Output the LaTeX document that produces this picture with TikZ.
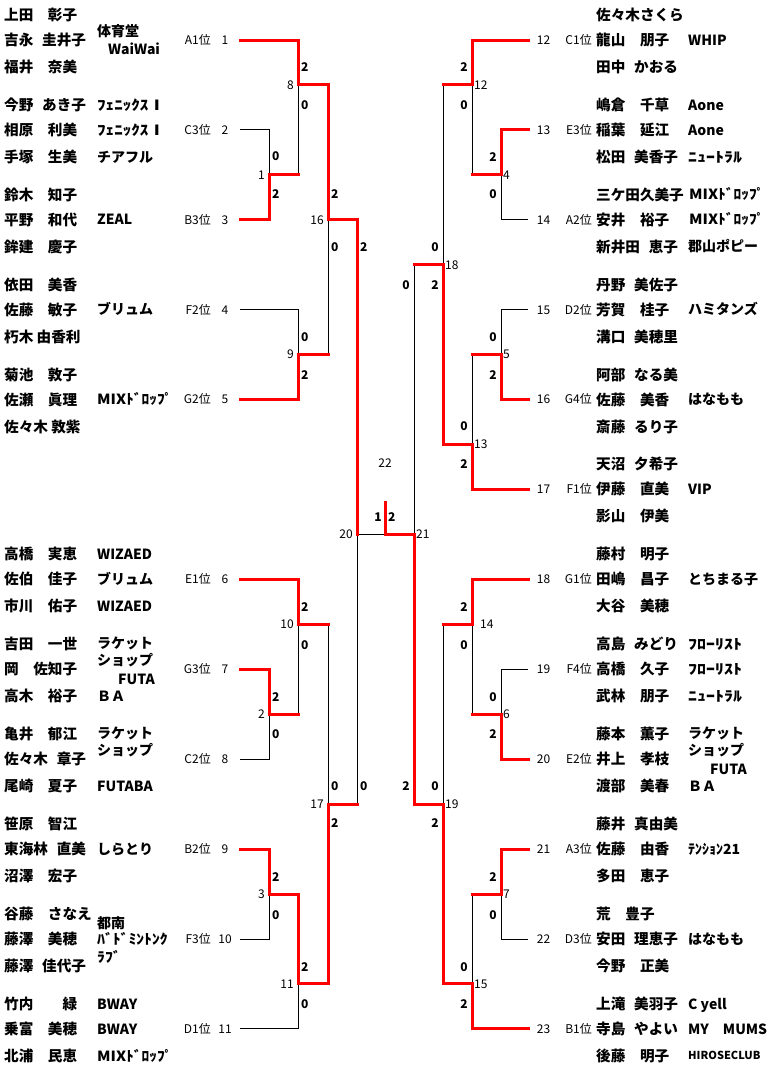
\documentclass[tikz,border=0pt]{standalone}
\usepackage{fontspec}
\setmainfont{Noto Sans CJK JP}
\newcommand\Hs{\hspace{0.6em}}
\newcommand\hw[2]{\scalebox{#1}[1]{#2}}
\begin{document}
\begin{tikzpicture}[x=1pt,y=-1pt,
  lose/.style={line width=1pt, draw=black},
  win/.style={line width=3pt, draw=red, line cap=rect},
  nm/.style={font=\bfseries\fontsize{14.6pt}{16pt}\selectfont, inner sep=0pt, anchor=base west, yshift=-5.4pt},
  tm/.style={font=\bfseries\fontsize{14pt}{15pt}\selectfont, inner sep=0pt, anchor=base west, yshift=-5.1pt},
  tms/.style={font=\bfseries\fontsize{11pt}{12pt}\selectfont, inner sep=0pt, anchor=base west, yshift=-4pt},
  sd/.style={font=\fontsize{12pt}{13pt}\selectfont, inner sep=0pt, yshift=-4.3pt},
  sc/.style={font=\bfseries\fontsize{12pt}{13pt}\selectfont, inner sep=0pt, yshift=-4.3pt},
  mlL/.style={font=\fontsize{12pt}{13pt}\selectfont, inner sep=0pt, anchor=base east, xshift=-4pt, yshift=-4.3pt},
  mlR/.style={font=\fontsize{12pt}{13pt}\selectfont, inner sep=0pt, anchor=base west, xshift=2pt, yshift=-4.3pt}
]
\useasboundingbox[fill=white] (0,0) rectangle (771,1069);

% ---------- seed coordinates ----------
\coordinate (s1) at (240,40);
\coordinate (s2) at (240,129.9);
\coordinate (s3) at (240,219.8);
\coordinate (s4) at (240,309.7);
\coordinate (s5) at (240,399.6);
\coordinate (s6) at (240,579.4);
\coordinate (s7) at (240,669.3);
\coordinate (s8) at (240,759.2);
\coordinate (s9) at (240,849.1);
\coordinate (s10) at (240,939);
\coordinate (s11) at (240,1028.9);
\coordinate (s12) at (528,40);
\coordinate (s13) at (528,129.9);
\coordinate (s14) at (528,219.8);
\coordinate (s15) at (528,309.7);
\coordinate (s16) at (528,399.6);
\coordinate (s17) at (528,489.5);
\coordinate (s18) at (528,579.4);
\coordinate (s19) at (528,669.3);
\coordinate (s20) at (528,759.2);
\coordinate (s21) at (528,849.1);
\coordinate (s22) at (528,939);
\coordinate (s23) at (528,1028.9);

% ---------- match junctions ----------
\coordinate (m1) at (269,174.85);
\coordinate (m8) at (298,84.95);
\coordinate (m16) at (328,219.8);
\coordinate (m9) at (298,354.65);
\coordinate (m20) at (357,534.45);
\coordinate (m10) at (298,624.35);
\coordinate (m2) at (269,714.25);
\coordinate (m17) at (328,804.15);
\coordinate (m3) at (269,894.05);
\coordinate (m11) at (298,983.95);
\coordinate (m22) at (385,534.45);
\coordinate (champ) at (385,502);
\coordinate (m12) at (472,84.95);
\coordinate (m4) at (501,174.85);
\coordinate (m18) at (443,264.75);
\coordinate (m5) at (501,354.65);
\coordinate (m13) at (472,444.55);
\coordinate (m21) at (414,534.45);
\coordinate (m14) at (472,624.35);
\coordinate (m6) at (501,714.25);
\coordinate (m19) at (443,804.15);
\coordinate (m7) at (501,894.05);
\coordinate (m15) at (472,983.95);

% ---------- black (losing) lines ----------
\foreach \s/\m in {s2/m1, s4/m9, s8/m2, s10/m3, s11/m11, s14/m4, s15/m5, s19/m6, s22/m7}
  \draw[lose] (\s) -| (\m);
\foreach \c/\p in {m1/m8, m9/m16, m17/m20, m2/m10, m10/m17, m4/m12, m12/m18, m18/m21, m5/m13, m6/m14, m14/m19, m7/m15}
  \draw[lose] (\c -| \p) -- (\p);
\draw[lose] (m20) -- (m22);

% ---------- red (winning) lines ----------
\foreach \s/\m in {s1/m8, s3/m1, s5/m9, s6/m10, s7/m2, s9/m3, s12/m12, s13/m4, s16/m5, s17/m13, s18/m14, s20/m6, s21/m7, s23/m15}
  \draw[win] (\s) -| (\m);
\foreach \c/\p in {m8/m16, m16/m20, m3/m11, m11/m17, m13/m18, m15/m19, m19/m21}
  \draw[win] (\c) -| (\p);
\foreach \c/\p in {m1/m8, m9/m16, m17/m20, m2/m10, m10/m17, m4/m12, m12/m18, m18/m21, m5/m13, m6/m14, m14/m19, m7/m15}
  \draw[win] (\c) -- (\c -| \p);
\draw[win] (m21) -- (m22) -- (champ);

% ---------- match numbers ----------
\foreach \m/\t in {m1/1, m8/8, m16/16, m9/9, m20/20, m10/10, m2/2, m17/17, m3/3, m11/11}
  \node[mlL] (l\m) at (\m) {\t};
\foreach \m/\t in {m12/12, m4/4, m18/18, m5/5, m13/13, m21/21, m6/6, m19/19, m7/7, m15/15}
  \node[mlR] (l\m) at (\m) {\t};
\node[mlR, xshift=6pt] (lm14) at (m14) {14};
\node[sd, anchor=base] (lm22) at (385,463) {22};

% ---------- scores ----------
\foreach \x/\y/\t [count=\i] in {301/67/2, 301/105/0, 272/156/0, 272/194/2, 331/194/2, 331/247/0,
  360/247/2, 360/786/0, 301/337/0, 301/375/2, 301/607/2, 301/645/0, 272/697/2, 272/734/0,
  331/786/0, 331/823/2, 272/877/2, 272/915/0, 301/967/2, 301/1004/0}
  \node[sc, anchor=base west] (scL\i) at (\x,\y) {\t};
\foreach \x/\y/\t [count=\i] in {468/67/2, 468/105/0, 497/157/2, 497/194/0, 439/247/0, 439/285/2,
  410/285/0, 410/786/2, 497/337/0, 497/375/2, 468/426/0, 468/464/2, 468/607/2, 468/645/0,
  497/697/0, 497/734/2, 439/786/0, 439/823/2, 497/877/2, 497/915/0, 468/967/0, 468/1004/2}
  \node[sc, anchor=base east] (scR\i) at (\x,\y) {\t};
\node[sc, anchor=base east] (fin1) at (382,517) {1};
\node[sc, anchor=base west] (fin2) at (388,517) {2};

% ---------- seed labels ----------
\foreach \s/\p/\n in {s1/A1/1, s2/C3/2, s3/B3/3, s4/F2/4, s5/G2/5, s6/E1/6, s7/G3/7, s8/C2/8, s9/B2/9, s10/F3/10, s11/D1/11} {
  \node[sd, anchor=base east] (p\s) at (211,0 |- \s) {\p 位};
  \node[sd, anchor=base] (n\s) at (225,0 |- \s) {\n};
}
\foreach \s/\p/\n in {s12/C1/12, s13/E3/13, s14/A2/14, s15/D2/15, s16/G4/16, s17/F1/17, s18/G1/18, s19/F4/19, s20/E2/20, s21/A3/21, s22/D3/22, s23/B1/23} {
  \node[sd, anchor=base] (n\s) at (543.5,0 |- \s) {\n};
  \node[sd, anchor=base east] (p\s) at (592,0 |- \s) {\p 位};
}

% ---------- player names ----------
\foreach \k/\a/\b/\c [evaluate=\k as \yy using 40+89.9*\k] in {
  0/上田　彰子/吉永\Hs 圭井子/福井　奈美,
  1/今野\Hs あき子/相原　利美/手塚　生美,
  2/鈴木　知子/平野　和代/鉾建　慶子,
  3/依田　美香/佐藤　敏子/朽木 由香利,
  4/菊池　敦子/佐瀬　眞理/佐々木 敦紫,
  6/高橋　実恵/佐伯　佳子/市川　佑子,
  7/吉田　一世/岡　佐知子/高木　裕子,
  8/亀井　郁江/佐々木\Hs 章子/尾崎　夏子,
  9/笹原　智江/東海林\Hs 直美/沼澤　宏子,
  10/谷藤　さなえ/藤澤　美穂/藤澤\Hs 佳代子,
  11/竹内　　緑/乗富　美穂/北浦　民恵} {
  \node[nm] (La\k) at (4,\yy-25) {\a};
  \node[nm] (Lb\k) at (4,\yy) {\b};
  \node[nm] (Lc\k) at (4,\yy+27) {\c};
}
\foreach \k/\a/\b/\c [evaluate=\k as \yy using 40+89.9*\k] in {
  0/佐々木さくら/龍山　朋子/田中\Hs かおる,
  1/嶋倉　千草/稲葉　延江/松田\Hs 美香子,
  2/三ケ田久美子/安井　裕子/新井田\Hs 恵子,
  3/丹野\Hs 美佐子/芳賀　桂子/溝口\Hs 美穂里,
  4/阿部\Hs なる美/佐藤　美香/斎藤\Hs るり子,
  5/天沼\Hs 夕希子/伊藤　直美/影山　伊美,
  6/藤村　明子/田嶋　昌子/大谷　美穂,
  7/高島\Hs みどり/高橋　久子/武林　朋子,
  8/藤本　薫子/井上　孝枝/渡部　美春,
  9/藤井\Hs 真由美/佐藤　由香/多田　恵子,
  10/荒　豊子/安田\Hs 理恵子/今野　正美,
  11/上滝\Hs 美羽子/寺島\Hs やよい/後藤　明子} {
  \node[nm] (Ra\k) at (596,\yy-25) {\a};
  \node[nm] (Rb\k) at (596,\yy) {\b};
  \node[nm] (Rc\k) at (596,\yy+27) {\c};
}

% ---------- team names, left ----------
\node[tm] (tL1) at (97,31) {体育堂};
\node[tm] (tL2) at (108,49) {WaiWai};
\node[tm] (tL3) at (97,104.9) {\hw{1.22}{ﾌｪﾆｯｸｽⅠ}};
\node[tm] (tL4) at (97,129.9) {\hw{1.22}{ﾌｪﾆｯｸｽⅠ}};
\node[tm] (tL5) at (97,156.9) {チアフル};
\node[tm] (tL6) at (97,219.8) {ZEAL};
\node[tm] (tL7) at (97,309.7) {ブリュム};
\node[tm] (tL8) at (97,399.6) {\hw{1.1}{MIXﾄﾞﾛｯﾌﾟ}};
\node[tm] (tL9) at (97,554.4) {WIZAED};
\node[tm] (tL10) at (97,579.4) {ブリュム};
\node[tm] (tL11) at (97,606.4) {WIZAED};
\node[tm] (tL12) at (97,643) {ラケット};
\node[tm] (tL13) at (97,660) {ショップ};
\node[tm] (tL14) at (118,679) {FUTA};
\node[tm] (tL15) at (97,696.3) {ＢＡ};
\node[tm] (tL16) at (97,733) {ラケット};
\node[tm] (tL17) at (97,750) {ショップ};
\node[tm] (tL18) at (97,786.2) {FUTABA};
\node[tm] (tL19) at (97,849.1) {しらとり};
\node[tm] (tL20) at (97,923) {都南};
\node[tm] (tL21) at (97,939) {\hw{1.12}{ﾊﾞﾄﾞﾐﾝﾄﾝｸ}};
\node[tm] (tL22) at (97,957) {\hw{1.12}{ﾗﾌﾞ}};
\node[tm] (tL23) at (97,1003.9) {BWAY};
\node[tm] (tL24) at (97,1028.9) {BWAY};
\node[tm] (tL25) at (97,1055.9) {\hw{1.1}{MIXﾄﾞﾛｯﾌﾟ}};

% ---------- team names, right ----------
\node[tm] (tR1) at (688,40) {WHIP};
\node[tm] (tR2) at (688,104.9) {Aone};
\node[tm] (tR3) at (688,129.9) {Aone};
\node[tm] (tR4) at (688,156.9) {\hw{1.28}{ﾆｭｰﾄﾗﾙ}};
\node[tm] (tR5) at (689,194.8) {\hw{1.1}{MIXﾄﾞﾛｯﾌﾟ}};
\node[tm] (tR6) at (689,219.8) {\hw{1.1}{MIXﾄﾞﾛｯﾌﾟ}};
\node[tm] (tR7) at (688,246.8) {郡山ポピー};
\node[tm] (tR8) at (688,309.7) {ハミタンズ};
\node[tm] (tR9) at (688,399.6) {はなもも};
\node[tm] (tR10) at (688,489.5) {VIP};
\node[tm] (tR11) at (688,579.4) {とちまる子};
\node[tm] (tR12) at (688,644.3) {\hw{1.28}{ﾌﾛｰﾘｽﾄ}};
\node[tm] (tR13) at (688,669.3) {\hw{1.28}{ﾌﾛｰﾘｽﾄ}};
\node[tm] (tR14) at (688,696.3) {\hw{1.28}{ﾆｭｰﾄﾗﾙ}};
\node[tm] (tR15) at (688,733) {ラケット};
\node[tm] (tR16) at (688,750) {ショップ};
\node[tm] (tR17) at (710,769) {FUTA};
\node[tm] (tR18) at (688,786.2) {ＢＡ};
\node[tm] (tR19) at (688,849.1) {ﾃﾝｼｮﾝ21};
\node[tm] (tR20) at (688,939) {はなもも};
\node[tm] (tR21) at (688,1003.9) {C yell};
\node[tm] (tR22) at (688,1028.9) {MY　MUMS};
\node[tms] (tR23) at (688,1055.9) {HIROSECLUB};
\end{tikzpicture}
\end{document}
